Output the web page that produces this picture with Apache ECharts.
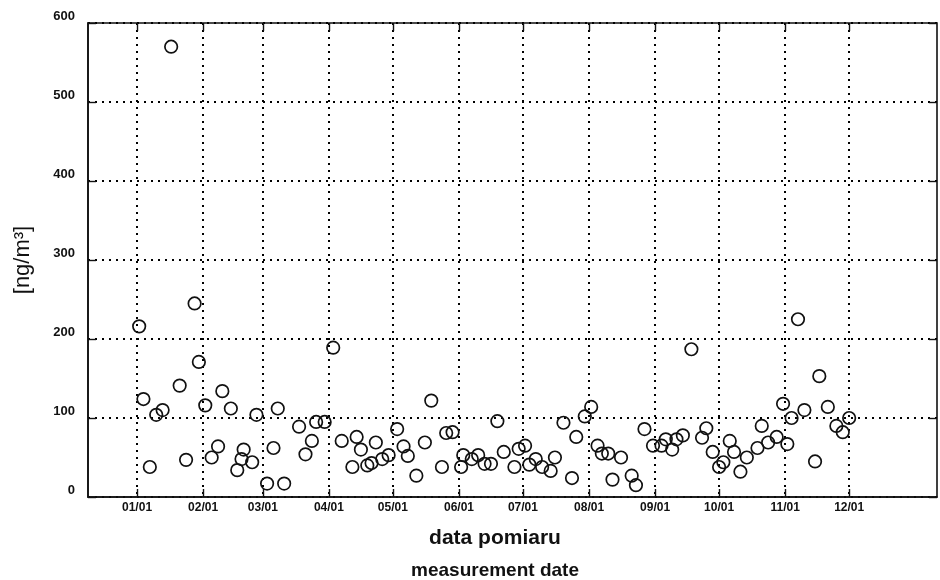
<!DOCTYPE html>
<html>
<head>
<meta charset="UTF-8">
<title>pomiar</title>
<script src="https://cdn.jsdelivr.net/npm/echarts@6/dist/echarts.min.js"></script>
<style>
  html, body { margin: 0; padding: 0; background: #fff; }
  #main { width: 940px; height: 580px; }
</style>
</head>
<body>
<div id="main"></div>
<script>
// dzien roku (0 = 1 stycznia) i stezenie [ng/m3]
var days = [1,3,6,9,12,16,20,23,27,29,32,35,38,40,44,47,49,50,54,56,61,64,66,69,76,79,82,84,88,92,
  96,101,103,105,108,110,112,115,118,122,125,127,131,135,138,143,145,148,152,153,157,160,163,166,169,
  172,177,179,182,184,187,190,194,196,200,204,206,210,213,216,218,221,223,227,232,234,238,242,246,248,
  251,253,256,260,265,267,270,273,275,278,280,283,286,291,293,296,300,303,305,307,310,313,318,320,324,
  328,331,334];
var values = [216,124,38,104,110,570,141,47,245,171,116,50,64,134,112,34,48,60,44,104,17,62,112,17,89,
  54,71,95,95,189,71,38,76,60,40,43,69,48,53,86,64,52,27,69,122,38,81,82,38,53,48,53,42,42,96,
  57,38,61,65,41,48,38,33,50,94,24,76,102,114,65,55,55,22,50,27,15,86,65,65,73,60,73,78,187,75,
  87,57,38,44,71,57,32,50,62,90,69,76,118,67,100,225,110,45,153,114,90,82,100];

// poczatki miesiecy
var tickDays = [0,31,59,90,120,151,181,212,243,273,304,334];
var tickLabels = ['01/01','02/01','03/01','04/01','05/01','06/01','07/01','08/01','09/01','10/01','11/01','12/01'];

var xMin = -23, xMax = 375.2;

var points = [];
for (var i = 0; i < days.length; i++) {
  points.push([days[i], values[i]]);
}

var myChart = echarts.init(document.getElementById('main'));

var dotted = { color: '#000', width: 2, type: [2, 5] };
var font = '"Liberation Sans", Arial, sans-serif';

var option = {
  backgroundColor: '#fff',
  animation: false,
  grid: { left: 88, right: 3, top: 23, bottom: 83, show: true, borderColor: '#111', borderWidth: 1.6 },
  xAxis: [{
    type: 'value', min: xMin, max: xMax,
    axisLine: { show: true, onZero: false, lineStyle: { color: '#111', width: 1.6 } },
    axisTick: { show: true, inside: true, length: 8, customValues: tickDays, lineStyle: { color: '#111', width: 1.4 } },
    axisLabel: {
      customValues: tickDays, margin: 5, color: '#111', fontSize: 12, fontWeight: 'bold', fontFamily: font,
      formatter: function (v) { var k = tickDays.indexOf(v); return k >= 0 ? tickLabels[k] : ''; }
    },
    splitLine: { show: true, lineStyle: dotted }
  }, {
    type: 'value', position: 'top', min: xMin, max: xMax,
    axisLine: { show: false, onZero: false },
    axisTick: { show: true, inside: true, length: 8, customValues: tickDays, lineStyle: { color: '#111', width: 1.4 } },
    axisLabel: { show: false },
    splitLine: { show: false }
  }],
  yAxis: [{
    type: 'value', min: 0, max: 600, interval: 100,
    name: '[ng/m³]', nameLocation: 'middle', nameGap: 54,
    nameTextStyle: { color: '#111', fontSize: 22, fontFamily: font },
    axisLine: { show: true, onZero: false, lineStyle: { color: '#111', width: 1.6 } },
    axisTick: { show: true, inside: true, length: 8, lineStyle: { color: '#111', width: 1.4 } },
    axisLabel: { margin: 13, color: '#111', fontSize: 13, fontWeight: 'bold', fontFamily: font, verticalAlign: 'bottom' },
    splitLine: { show: true, lineStyle: dotted }
  }, {
    type: 'value', position: 'right', min: 0, max: 600, interval: 100,
    axisLine: { show: false, onZero: false },
    axisTick: { show: true, inside: true, length: 8, lineStyle: { color: '#111', width: 1.4 } },
    axisLabel: { show: false },
    splitLine: { show: false }
  }],
  graphic: [{
    type: 'text', x: 495, y: 538,
    style: { text: 'data pomiaru', fill: '#111', font: 'bold 21px ' + font, textAlign: 'center', textVerticalAlign: 'middle' }
  }, {
    type: 'text', x: 495, y: 571,
    style: { text: 'measurement date', fill: '#111', font: 'bold 19px ' + font, textAlign: 'center', textVerticalAlign: 'middle' }
  }],
  series: [{
    type: 'scatter',
    symbol: 'circle',
    symbolSize: 12.5,
    itemStyle: { color: 'rgba(255,255,255,0)', borderColor: '#111', borderWidth: 1.7, opacity: 1 },
    data: points
  }]
};

myChart.setOption(option);
</script>
</body>
</html>
